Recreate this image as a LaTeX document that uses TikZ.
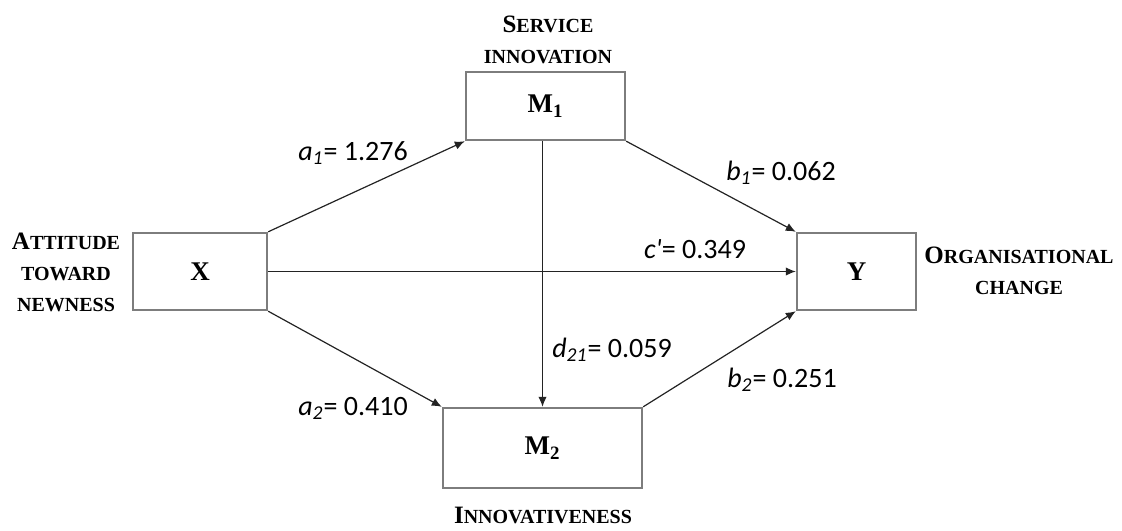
\documentclass[tikz,border=0pt]{standalone}
\usepackage{fontspec}
\setmainfont{Liberation Serif}
\newfontfamily\labfont{Carlito}
\usetikzlibrary{arrows.meta}
\definecolor{boxgray}{RGB}{125,125,125}
\definecolor{linegray}{RGB}{35,35,35}
\newcommand{\capword}[2]{{\fontsize{12.5}{15.5}\selectfont #1}#2}

\begin{document}
\begin{tikzpicture}[x=0.5pt, y=-0.5pt,
    box/.style={draw=boxgray, line width=1.2pt, fill=white,
        font=\bfseries\fontsize{13.5}{15}\selectfont},
    desc/.style={align=center, inner sep=0pt,
        font=\bfseries\fontsize{10}{15.5}\selectfont},
    lab/.style={anchor=base, inner sep=0pt,
        font=\labfont\fontsize{14}{16}\selectfont},
    path/.style={draw=linegray, line width=0.6pt,
        -{Latex[length=5pt, width=4.2pt]}}]
    \useasboundingbox (0,0) rectangle (1122,530);

    \node (X) [box, minimum width=67pt, minimum height=38.5pt] at (200,271.5) {X};
    \node (M1) [box, minimum width=79.5pt, minimum height=34pt] at (545.5,106) {M\textsubscript{1}};
    \node (M2) [box, minimum width=99.5pt, minimum height=40pt] at (542.5,448) {M\textsubscript{2}};
    \node (Y) [box, minimum width=59.5pt, minimum height=38.5pt] at (856.5,271.5) {Y};

    \node (dX) [desc] at (66,272) {\capword{A}{TTITUDE}\\TOWARD\\NEWNESS};
    \node (dM1) [desc] at (548,40) {\capword{S}{ERVICE}\\INNOVATION};
    \node (dM2) [desc, anchor=base] at (543,523) {\capword{I}{NNOVATIVENESS}};
    \node (dY) [desc] at (1019,270.5) {\capword{O}{RGANISATIONAL}\\CHANGE};

    \node (la1) [lab] at (353,160) {{\itshape a}\textsubscript{\itshape 1}= 1.276};
    \node (lb1) [lab] at (781,180) {{\itshape b}\textsubscript{\itshape 1}= 0.062};
    \node (lc) [lab] at (695,258) {{\itshape c\textquotesingle}= 0.349};
    \node (ld) [lab] at (612,357) {{\itshape d}\textsubscript{\itshape 21}= 0.059};
    \node (la2) [lab] at (353,415) {{\itshape a}\textsubscript{\itshape 2}= 0.410};
    \node (lb2) [lab] at (782,387) {{\itshape b}\textsubscript{\itshape 2}= 0.251};

    \draw[path] (X.north east) -- (M1.south west);
    \draw[path] (X.east) -- (Y.west);
    \draw[path] (X.south east) -- (M2.north west);
    \draw[path] (M1.south east) -- (Y.north west);
    \draw[path] (M2.north east) -- (Y.south west);
    \draw[path] (M2.north |- M1.south) -- (M2.north);
\end{tikzpicture}
\end{document}
